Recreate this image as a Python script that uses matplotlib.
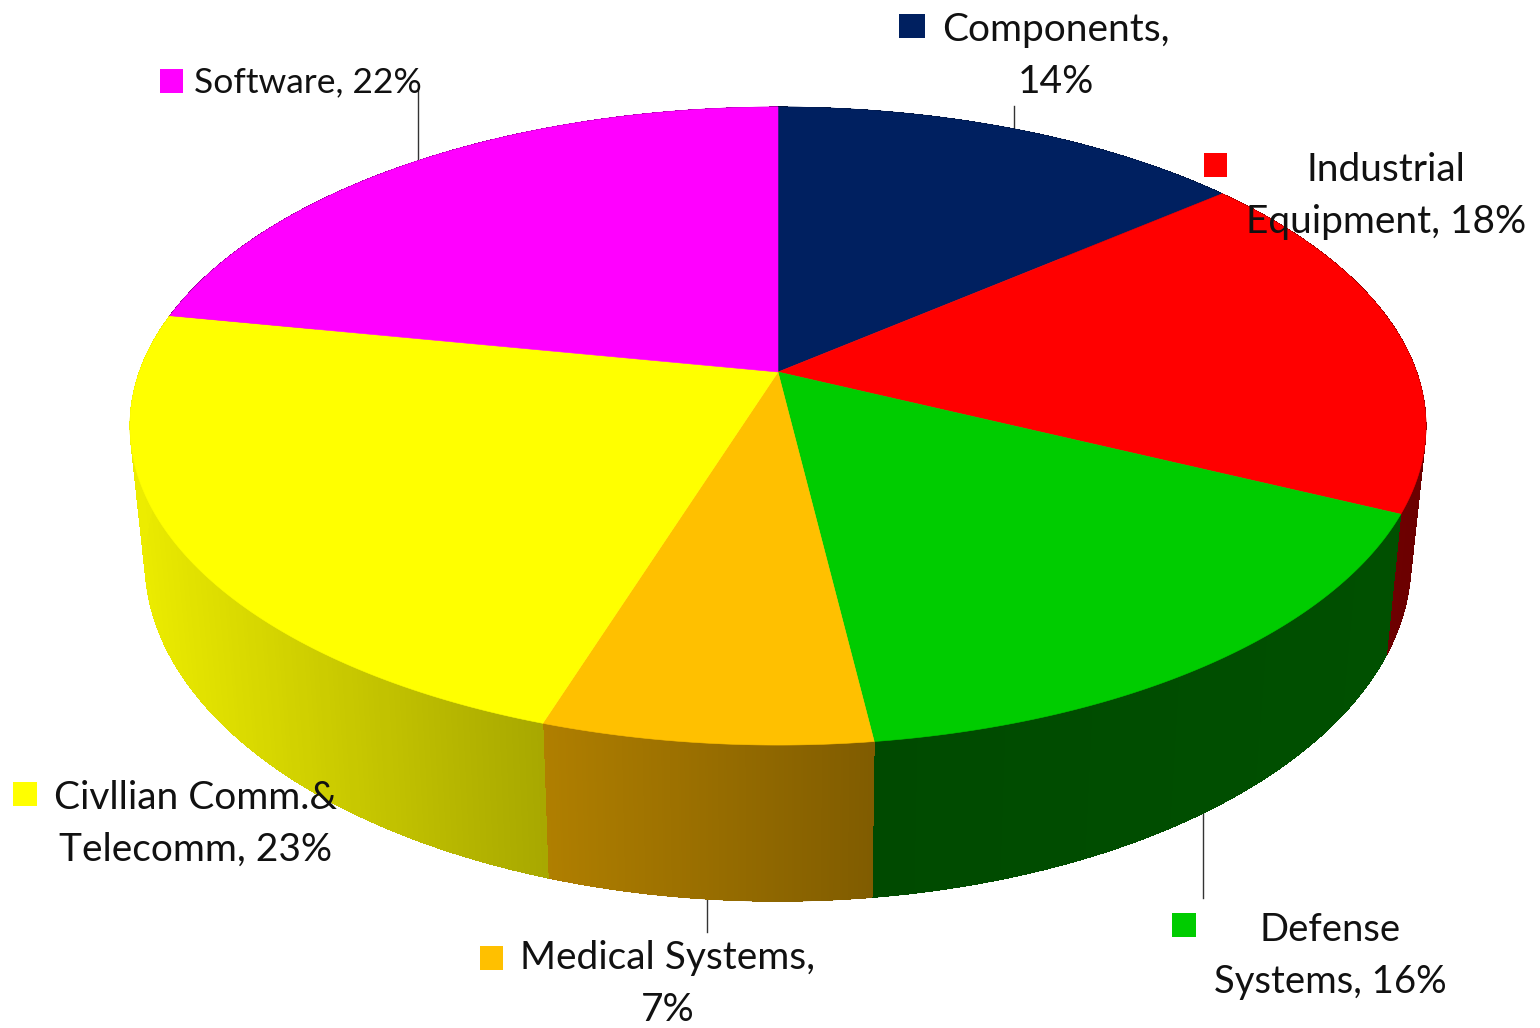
import numpy as np
import matplotlib
matplotlib.use('Agg')
import matplotlib.pyplot as plt
from matplotlib.collections import PolyCollection
from matplotlib.patches import Rectangle

# clockwise from twelve o'clock
categories = ['Components', 'Industrial\nEquipment', 'Defense\nSystems',
              'Medical Systems', 'Civllian Comm.&\nTelecomm', 'Software']
shares = [14, 18, 16, 7, 23, 22]

top_colors = ['#002060', '#ff0000', '#00cc00', '#ffc000', '#ffff00', '#ff00ff']
side_left = ['#001030', '#720000', '#004a00', '#b07f00', '#ecec00', '#800080']
side_right = ['#001030', '#6c0000', '#005000', '#805c00', '#a8a800', '#800080']

# pie drawn in pixel space, tilted with a simple perspective
CX, CY = 778, 372
A, B, P = 638.7, 309.9, 0.1693


def project(angle, ring=0):
    u, v = np.sin(angle), np.cos(angle)
    dx = A * u / (1 + P * v)
    dy = -B * v / (1 + P * v)
    if ring == 0:
        return CX + dx, CY + dy
    return CX + 0.977 * dx, 503.6 + 1.066 * dy


fig = plt.figure(figsize=(15.4, 10.28), dpi=100)
ax = fig.add_axes([0, 0, 1, 1])
ax.set_xlim(0, 1540)
ax.set_ylim(1028, 0)
ax.axis('off')
plt.rcParams['font.family'] = ['Lato', 'DejaVu Sans']

edges = np.cumsum([0] + shares) / sum(shares) * 2 * np.pi

# side wall first, the top face covers the hidden part
for i in range(len(shares)):
    t = np.linspace(edges[i], edges[i + 1], 160)
    x0, y0 = project(t)
    x1, y1 = project(t, 1)
    c0 = np.array(matplotlib.colors.to_rgb(side_left[i]))
    c1 = np.array(matplotlib.colors.to_rgb(side_right[i]))
    # underlay keeps the outer edge smooth and hides seams between strips
    ax.fill(np.r_[x0, x1[::-1]], np.r_[y0, y1[::-1]], color=(c0 + c1) / 2, lw=0.3, zorder=2)
    strips = [[(x0[k], y0[k]), (x0[k + 1], y0[k + 1]), (x1[k + 1], y1[k + 1]), (x1[k], y1[k])]
              for k in range(len(t) - 1)]
    w = (x0[:-1] - x0.min()) / (x0.max() - x0.min())
    cols = [c0 + (c1 - c0) * f for f in w]
    ax.add_collection(PolyCollection(strips, facecolors=cols, edgecolors='none',
                                     linewidths=0, antialiaseds=False, zorder=2.1))

# top face
for i in range(len(shares)):
    t = np.linspace(edges[i], edges[i + 1], 200)
    x, y = project(t)
    ax.fill(np.r_[CX, x], np.r_[CY, y], color=top_colors[i], lw=0.4, zorder=3)

# leader lines start at the middle of each slice
mids = (edges[:-1] + edges[1:]) / 2
leader_ring = [0, None, 1, 1, None, 0]
leader_end = [106, None, 898, 932, None, 88]
for i in range(len(shares)):
    if leader_ring[i] is None:
        continue
    x, y = project(mids[i], leader_ring[i])
    ax.plot([x, x], [y, leader_end[i]], color='#333333', lw=1.0, zorder=1)

# key squares and labels
key_x = [899, 1204, 1172, 480, 13, 160]
key_y = [14, 153, 913, 946, 782, 69]
key_w = [26, 23, 24, 23, 24, 23]
label_x = [1056, 1386, 1330, 668, 196, 308]
label_y = [56, 196, 956, 984, 824, 82]
label_size = [28, 28, 27.5, 28, 28, 25.5]

for i, name in enumerate(categories):
    ax.add_patch(Rectangle((key_x[i], key_y[i]), key_w[i], 24, color=top_colors[i], lw=0, zorder=4))
    if name == 'Components' or name == 'Medical Systems':
        text = f'{name},\n{shares[i]}%'
    else:
        text = f'{name}, {shares[i]}%'
    ax.text(label_x[i], label_y[i], text, ha='center', va='center', ma='center',
            fontsize=label_size[i], color='#111111', linespacing=1.55, zorder=5)

fig.savefig('out.png', dpi=100)
